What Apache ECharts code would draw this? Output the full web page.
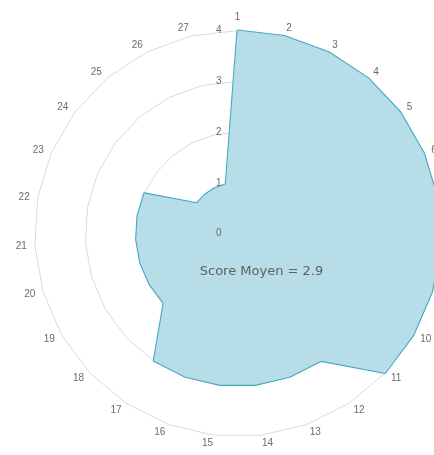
<!DOCTYPE html>
<html>
<head>
<meta charset="utf-8">
<script src="https://cdn.jsdelivr.net/npm/echarts@6/dist/echarts.min.js"></script>
<style>
  html, body { margin: 0; padding: 0; background: #fff; }
  #chart { width: 434px; height: 455px; }
</style>
</head>
<body>
<div id="chart"></div>
<script>
// Criteria 1..27, listed clockwise from the top
const categories = ['1','2','3','4','5','6','7','8','9','10','11','12','13','14',
  '15','16','17','18','19','20','21','22','23','24','25','26','27'];
// Score per criterion
const scores = [4,4,4,4,4,4,4,4,4,4,4,3,3,3,3,3,3,2,2,2,2,2,2,1,1,1,1];
// Scale ticks
const tickLabels = ['0','1','2','3','4'];
const scaleMax = 4;
const averageText = 'Score Moyen = 2.9';

// ECharts lays radar indicators counter-clockwise; reverse all but the first
const order = [0].concat(categories.map((_, i) => i).slice(1).reverse());
const orderedNames = order.map(i => categories[i]);
const orderedScores = order.map(i => scores[i]);

const center = [237.5, 233.6];
const radius = 203;
const textGray = '#6b6b6b';

const chart = echarts.init(document.getElementById('chart'), null, { renderer: 'canvas' });

chart.setOption({
  animation: false,
  radar: [
    {
      // gridlines and criterion names, behind the filled area
      center: center,
      radius: radius,
      startAngle: 90,
      shape: 'polygon',
      splitNumber: tickLabels.length - 1,
      z: 1,
      indicator: orderedNames.map(n => ({ name: n, min: 0, max: scaleMax })),
      axisName: { color: textGray, fontSize: 10, fontFamily: 'Liberation Sans' },
      nameGap: 8,
      axisLine: { show: false },
      axisTick: { show: false },
      axisLabel: { show: false },
      splitLine: { lineStyle: { color: '#d9d9d9', width: 1 } },
      splitArea: { show: false }
    },
    {
      // scale values along the first axis, drawn above the area
      center: center,
      radius: radius,
      startAngle: 90,
      shape: 'polygon',
      splitNumber: tickLabels.length - 1,
      z: 10,
      indicator: orderedNames.map((n, i) => ({
        name: n, min: 0, max: scaleMax,
        axisLabel: { show: i === 0 }
      })),
      axisName: { show: false },
      axisLine: { show: false },
      axisTick: { show: false },
      axisLabel: {
        show: false,
        color: textGray, fontSize: 10, fontFamily: 'Liberation Sans',
        margin: 16,
        formatter: v => tickLabels[Math.round(v)]
      },
      splitLine: { show: false },
      splitArea: { show: false }
    }
  ],
  series: [{
    type: 'radar',
    radarIndex: 0,
    z: 2,
    symbol: 'none',
    silent: true,
    lineStyle: { color: '#46a8c3', width: 2.2 },
    areaStyle: { color: '#b7dee8', opacity: 1 },
    data: [{ value: orderedScores, name: 'Score' }]
  }],
  graphic: [{
    type: 'text',
    x: 261.5,
    y: 272,
    z: 20,
    style: {
      text: averageText,
      fill: '#5f5f5f',
      font: '13px "DejaVu Sans"',
      textAlign: 'center',
      textVerticalAlign: 'middle'
    }
  }]
});
</script>
</body>
</html>
